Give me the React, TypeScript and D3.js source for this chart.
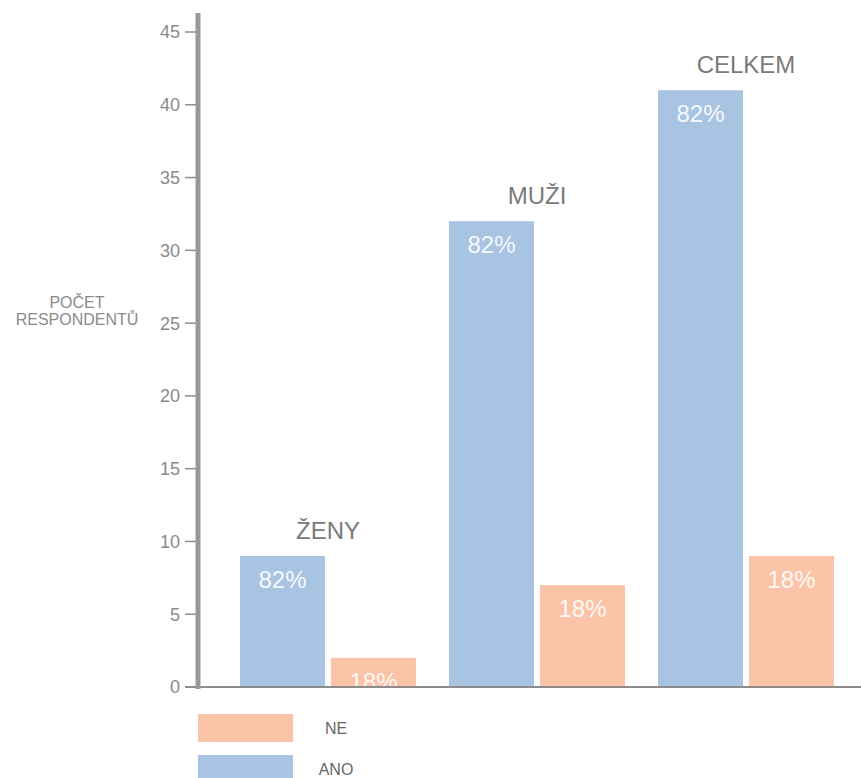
import React from "react";
import * as d3 from "d3";

const categories = ["ŽENY", "MUŽI", "CELKEM"];
const seriesKeys = ["ANO", "NE"];
const anoValues = [9, 32, 41];
const neValues = [2, 7, 9];
const anoPercent = ["82%", "82%", "82%"];
const nePercent = ["18%", "18%", "18%"];
const yTicks = [0, 5, 10, 15, 20, 25, 30, 35, 40, 45];
const legendItems = ["NE", "ANO"];
const yTitle = ["POČET", "RESPONDENTŮ"];

const colors: Record<string, string> = { ANO: "#a9c4e3", NE: "#fbc3a8" };
const FONT = "'Liberation Sans', Arial, Helvetica, sans-serif";

export default function App() {
  const W = 861;
  const H = 778;
  const y = d3.scaleLinear().domain([0, 45]).range([687, 32]);
  const x0 = d3.scaleBand<string>().domain(categories).range([240, 834]).paddingInner(0.158).paddingOuter(0);
  const x1 = d3.scaleBand<string>().domain(seriesKeys).range([0, x0.bandwidth()]).paddingInner(0.066);
  const axisX = 198;

  return (
    <svg width={W} height={H} style={{ position: "absolute", left: 0, top: 0, display: "block" }} fontFamily={FONT}>
      <rect width={W} height={H} fill="#fff" />
      {/* y axis ticks */}
      {yTicks.map((t) => (
        <g key={t}>
          <line x1={185} x2={axisX} y1={y(t)} y2={y(t)} stroke="#8c8c8c" strokeWidth={1.5} />
          <text x={180} y={y(t)} dy="0.36em" textAnchor="end" fontSize={18} fill="#8a8a8a">
            {t}
          </text>
        </g>
      ))}
      {/* y title */}
      {yTitle.map((s, i) => (
        <text key={s} x={77} y={308 + i * 17} textAnchor="middle" fontSize={16} fill="#8a8a8a">
          {s}
        </text>
      ))}
      {/* bars */}
      {categories.map((c, i) => {
        const gx = x0(c)!;
        const vals: Record<string, number> = { ANO: anoValues[i], NE: neValues[i] };
        const pcts: Record<string, string> = { ANO: anoPercent[i], NE: nePercent[i] };
        return (
          <g key={c} transform={`translate(${gx},0)`}>
            {seriesKeys.map((k) => (
              <g key={k}>
                <rect x={x1(k)!} y={y(vals[k])} width={x1.bandwidth()} height={y(0) - y(vals[k])} fill={colors[k]} />
                <text
                  x={x1(k)! + x1.bandwidth() / 2}
                  y={y(vals[k]) + 32}
                  textAnchor="middle"
                  fontSize={24}
                  fill="rgba(255,255,255,0.92)"
                >
                  {pcts[k]}
                </text>
              </g>
            ))}
            <text x={x0.bandwidth() / 2} y={y(anoValues[i]) - 17} textAnchor="middle" fontSize={24} fill="#7a7a7a">
              {c}
            </text>
          </g>
        );
      })}
      {/* axes lines */}
      <line x1={185} x2={W} y1={y(0)} y2={y(0)} stroke="#8c8c8c" strokeWidth={2} />
      <line x1={axisX} x2={axisX} y1={13} y2={689} stroke="#999" strokeWidth={5} />
      {/* legend */}
      {legendItems.map((k, i) => (
        <g key={k}>
          <rect x={198} y={714 + i * 41} width={95} height={28} fill={colors[k]} />
          <text x={336} y={728 + i * 41} dy="0.36em" textAnchor="middle" fontSize={16} fill="#666">
            {k}
          </text>
        </g>
      ))}
    </svg>
  );
}
